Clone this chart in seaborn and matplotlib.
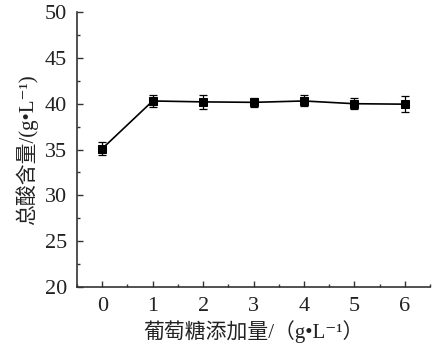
import matplotlib
matplotlib.use("Agg")
import matplotlib.pyplot as plt
from matplotlib.ticker import MultipleLocator
import seaborn as sns
import pandas as pd

glucose = [0, 1, 2, 3, 4, 5, 6]
total_acid = [35.1, 40.3, 40.2, 40.15, 40.3, 40.0, 39.95]
acid_err = [0.7, 0.7, 0.8, 0.5, 0.6, 0.6, 0.9]
y_ticks = [20, 25, 30, 35, 40, 45, 50]
x_label = "葡萄糖添加量/（g•L⁻¹）"
y_label = "总酸含量/(g•L⁻¹)"

sns.set_style("ticks")
fam = ["Liberation Serif", "Noto Sans CJK SC", "DejaVu Sans"]
plt.rcParams["font.family"] = fam

df = pd.DataFrame({"x": glucose, "y": total_acid})
fig = plt.figure(figsize=(4.33, 3.56), dpi=100)
ax = fig.add_axes([0.178, 0.194, 0.815, 0.772])
ax.errorbar(glucose, total_acid, yerr=acid_err, fmt="none", ecolor="black",
            elinewidth=0.9, capsize=3, capthick=0.9, zorder=2)
sns.lineplot(data=df, x="x", y="y", ax=ax, color="black", marker="s",
             markersize=6, markeredgecolor="black", linewidth=1.2, zorder=3)

ax.set_xlim(-0.5, 6.5)
ax.set_ylim(20, 50)
ax.set_xticks(glucose)
ax.set_yticks(y_ticks)
ax.xaxis.set_minor_locator(MultipleLocator(0.5))
ax.yaxis.set_minor_locator(MultipleLocator(2.5))
ax.tick_params(which="major", direction="in", length=4, width=1, labelsize=16,
               color="#333333", labelcolor="#222222")
ax.tick_params(which="minor", direction="in", length=2, width=1, color="#333333")
ax.tick_params(axis="y", pad=7)
ax.tick_params(axis="x", pad=7)
for s in ["top", "right"]:
    ax.spines[s].set_visible(False)
for s in ["left", "bottom"]:
    ax.spines[s].set_linewidth(1.2)
    ax.spines[s].set_color("#333333")
ax.set_xlabel(x_label, fontsize=15, family=fam, color="#222222", labelpad=3)
ax.set_ylabel(y_label, fontsize=15, family=fam, color="#222222", labelpad=5)

fig.savefig("out.png", dpi=100)
